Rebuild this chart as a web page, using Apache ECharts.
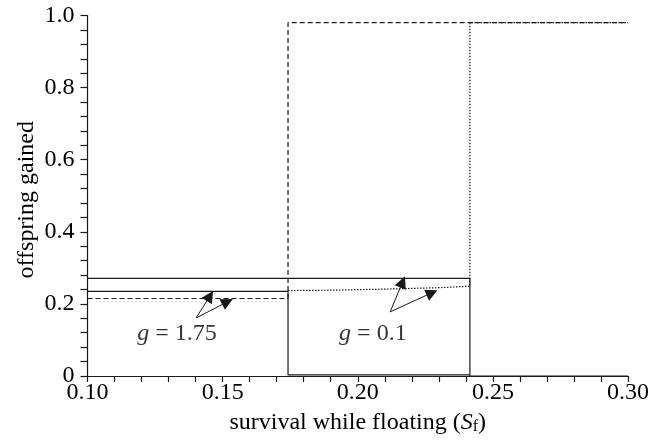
<!DOCTYPE html>
<html>
<head>
<meta charset="utf-8">
<script src="https://cdn.jsdelivr.net/npm/echarts@6/dist/echarts.min.js"></script>
<style>
  html, body { margin: 0; padding: 0; background: #fff; }
  #graph { width: 659px; height: 440px; }
</style>
</head>
<body>
<div id="graph"></div>
<script>
const chartDom = document.getElementById('graph')
const myChart = echarts.init(chartDom)

// step curves: [S_f, offspring]
const solidHigh = [[0.10, 0.271], [0.2415, 0.271], [0.2415, 0], [0.30, 0]];     // g = 0.1, solid
const solidLow = [[0.10, 0.235], [0.1742, 0.235], [0.1742, 0.003], [0.2415, 0.003]]; // g = 1.75, solid
const dashedCurve = [[0.10, 0.215], [0.1742, 0.215], [0.1742, 0.98], [0.30, 0.98]]; // g = 1.75, dashed
const dottedCurve = [[0.1742, 0.237], [0.19, 0.238], [0.21, 0.241], [0.23, 0.245], [0.2415, 0.249],
                     [0.2415, 0.98], [0.30, 0.98]];                                   // g = 0.1, dotted

// annotation arrows [from, to]
const arrows175 = [
    [[0.1402, 0.161], [0.1453, 0.222]],
    [[0.1402, 0.161], [0.1518, 0.206]]
];
const arrows01 = [
    [[0.2120, 0.178], [0.2166, 0.261]],
    [[0.2120, 0.178], [0.2275, 0.231]]
];
const labelPoints = [
    { value: [0.1331, 0.118], text: '1.75' },
    { value: [0.2056, 0.118], text: '0.1' }
];

const serif = '"Liberation Serif", "DejaVu Serif", serif';
const ink = '#1a1a1a';
const textInk = '#000';

function stepSeries(data, type) {
    return {
        type: 'line',
        data: data,
        showSymbol: false,
        symbol: 'none',
        silent: true,
        animation: false,
        lineStyle: { color: ink, width: 1.2, type: type }
    };
}

function arrowSeries(list) {
    return {
        type: 'lines',
        coordinateSystem: 'cartesian2d',
        symbol: ['none', 'triangle'],
        symbolSize: [9, 12],
        silent: true,
        animation: false,
        lineStyle: { color: ink, width: 1, opacity: 1, curveness: 0 },
        data: list.map(function (a) { return { coords: a }; })
    };
}

const option = {
    backgroundColor: '#fff',
    animation: false,
    grid: { left: 87.5, right: 31, top: 15.5, bottom: 62.5, containLabel: false },
    xAxis: {
        type: 'value',
        min: 0.10,
        max: 0.30,
        interval: 0.05,
        name: '{t|survival while floating (}{i|S}{s|f}{t|)}',
        nameLocation: 'middle',
        nameGap: 34,
        nameMoveOverlap: false,
        nameTextStyle: {
            rich: {
                t: { fontFamily: serif, fontSize: 24, color: textInk },
                i: { fontFamily: serif, fontSize: 24, color: textInk, fontStyle: 'italic' },
                s: { fontFamily: serif, fontSize: 16, color: textInk, padding: [9, 0, 0, 0] }
            }
        },
        axisLine: { onZero: false, lineStyle: { color: ink, width: 1.2 } },
        axisTick: { inside: false, length: 6, lineStyle: { color: ink, width: 1.2 } },
        minorTick: { show: true, splitNumber: 5, length: 6, lineStyle: { color: ink, width: 1.2 } },
        splitLine: { show: false },
        axisLabel: {
            margin: 5,
            fontFamily: serif,
            fontSize: 24,
            color: textInk,
            formatter: function (v) { return v.toFixed(2); }
        }
    },
    yAxis: {
        type: 'value',
        min: 0,
        max: 1.0,
        interval: 0.2,
        name: 'offspring gained',
        nameLocation: 'middle',
        nameGap: 49,
        nameMoveOverlap: false,
        nameTextStyle: { fontFamily: serif, fontSize: 24, color: textInk, padding: [0, 8, 0, 0] },
        axisLine: { onZero: false, lineStyle: { color: ink, width: 1.2 } },
        axisTick: { inside: false, length: 7, lineStyle: { color: ink, width: 1.2 } },
        minorTick: { show: true, splitNumber: 5, length: 7, lineStyle: { color: ink, width: 1.2 } },
        splitLine: { show: false },
        axisLabel: {
            margin: 13,
            fontFamily: serif,
            fontSize: 24,
            color: textInk,
            formatter: function (v) { return v === 0 ? '0' : v.toFixed(1); }
        }
    },
    series: [
        stepSeries(solidHigh, 'solid'),
        stepSeries(solidLow, 'solid'),
        stepSeries(dashedCurve, [5, 3]),
        stepSeries(dottedCurve, [1.5, 1.5]),
        arrowSeries(arrows175),
        arrowSeries(arrows01),
        {
            type: 'scatter',
            symbolSize: 0,
            silent: true,
            animation: false,
            data: labelPoints.map(function (p) { return { value: p.value, text: p.text }; }),
            label: {
                show: true,
                position: 'inside',
                formatter: function (p) { return '{i|g}{t| = ' + p.data.text + '}'; },
                rich: {
                    i: { fontFamily: serif, fontSize: 24, color: textInk, fontStyle: 'italic' },
                    t: { fontFamily: serif, fontSize: 24, color: textInk }
                }
            }
        }
    ]
};

option && myChart.setOption(option);
</script>
</body>
</html>
